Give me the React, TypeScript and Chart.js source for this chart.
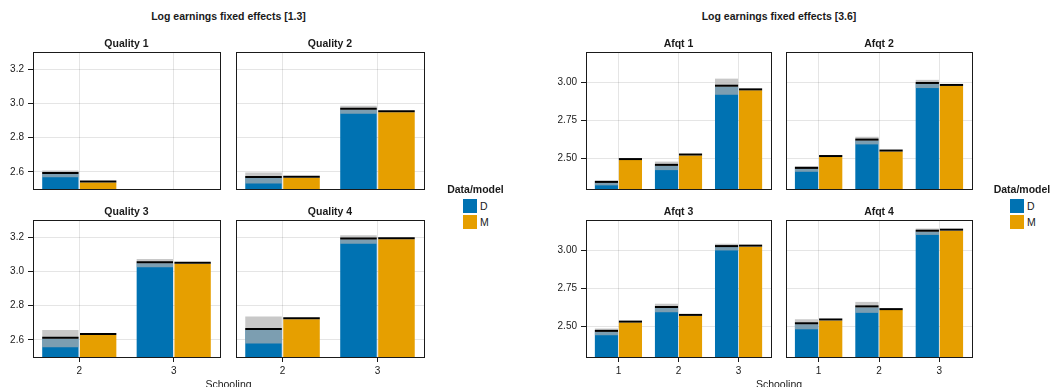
import React, { useEffect, useRef } from "react";
import { Chart, registerables } from "chart.js";

Chart.register(...registerables);

// ---------- style ----------
const FONT = "'Liberation Sans', Arial, Helvetica, sans-serif";
const TEXT = "#1a1a1a";
const BLUE = "#0072B2";
const ORANGE = "#E69F00";
const BAND = "rgba(176,176,176,0.7)";
const GRID = "rgba(0,0,0,0.1)";

// ---------- data: left figure (Quality) ----------
const QUALITY_SCHOOLING = [2, 3];
const QUALITY_Y_TICKS = [2.6, 2.8, 3.0, 3.2];
const QUALITY_X_RANGE = [1.51, 3.49];
const QUALITY_Y_RANGE = [2.5, 3.3];

const Q1_DATA = [2.588, null];
const Q1_DATA_SE = [0.02, null];
const Q1_MODEL = [2.538, null];

const Q2_DATA = [2.564, 2.963];
const Q2_DATA_SE = [0.032, 0.023];
const Q2_MODEL = [2.566, 2.948];

const Q3_DATA = [2.607, 3.048];
const Q3_DATA_SE = [0.05, 0.024];
const Q3_MODEL = [2.628, 3.045];

const Q4_DATA = [2.658, 3.186];
const Q4_DATA_SE = [0.079, 0.025];
const Q4_MODEL = [2.721, 3.188];

// ---------- data: right figure (Afqt) ----------
const AFQT_SCHOOLING = [1, 2, 3];
const AFQT_Y_TICKS = [2.5, 2.75, 3.0];
const AFQT_X_RANGE = [0.46, 3.54];
const AFQT_Y_RANGE = [2.3, 3.2];

const A1_DATA = [2.34, 2.452, 2.972];
const A1_DATA_SE = [0.016, 0.028, 0.053];
const A1_MODEL = [2.49, 2.52, 2.948];

const A2_DATA = [2.432, 2.618, 2.99];
const A2_DATA_SE = [0.019, 0.025, 0.027];
const A2_MODEL = [2.51, 2.546, 2.977];

const A3_DATA = [2.465, 2.622, 3.022];
const A3_DATA_SE = [0.022, 0.028, 0.022];
const A3_MODEL = [2.526, 2.57, 3.025];

const A4_DATA = [2.515, 2.626, 3.123];
const A4_DATA_SE = [0.033, 0.036, 0.021];
const A4_MODEL = [2.54, 2.608, 3.13];

const LEGEND_TITLE = "Data/model";
const LEGEND_LABELS = ["D", "M"];

// ---------- layout ----------
const YW = 32; // y-axis box width
const TH = 20; // title box height
const XH = 24; // x-axis box height
const RP = 4; // right padding

type Vals = (number | null)[];
interface PanelSpec {
  title: string;
  cats: number[];
  data: Vals;
  dataSe: Vals;
  model: Vals;
  xRange: number[];
  yRange: number[];
  yTicks: number[];
  yDecimals: number;
  rect: number[]; // plot area: left, top, width, height
  showX: boolean;
  showY: boolean;
}

const quality = (title, data, dataSe, model, rect, showX, showY): PanelSpec => ({
  title, cats: QUALITY_SCHOOLING, data, dataSe, model,
  xRange: QUALITY_X_RANGE, yRange: QUALITY_Y_RANGE, yTicks: QUALITY_Y_TICKS, yDecimals: 1,
  rect, showX, showY,
});
const afqt = (title, data, dataSe, model, rect, showX, showY): PanelSpec => ({
  title, cats: AFQT_SCHOOLING, data, dataSe, model,
  xRange: AFQT_X_RANGE, yRange: AFQT_Y_RANGE, yTicks: AFQT_Y_TICKS, yDecimals: 2,
  rect, showX, showY,
});

const PANELS: PanelSpec[] = [
  quality("Quality 1", Q1_DATA, Q1_DATA_SE, Q1_MODEL, [33, 52, 187, 137], false, true),
  quality("Quality 2", Q2_DATA, Q2_DATA_SE, Q2_MODEL, [236, 52, 188, 137], false, false),
  quality("Quality 3", Q3_DATA, Q3_DATA_SE, Q3_MODEL, [33, 220, 187, 137], true, true),
  quality("Quality 4", Q4_DATA, Q4_DATA_SE, Q4_MODEL, [236, 220, 188, 137], true, false),
  afqt("Afqt 1", A1_DATA, A1_DATA_SE, A1_MODEL, [586, 52, 185, 137], false, true),
  afqt("Afqt 2", A2_DATA, A2_DATA_SE, A2_MODEL, [786, 52, 186, 137], false, false),
  afqt("Afqt 3", A3_DATA, A3_DATA_SE, A3_MODEL, [586, 220, 185, 137], true, true),
  afqt("Afqt 4", A4_DATA, A4_DATA_SE, A4_MODEL, [786, 220, 186, 137], true, false),
];

const framePlugin = {
  id: "frame",
  afterDatasetsDraw(chart) {
    const { ctx, chartArea: a } = chart;
    const l = Math.round(a.left);
    const t = Math.round(a.top);
    const r = Math.round(a.right);
    const b = Math.round(a.bottom);
    ctx.save();
    ctx.strokeStyle = TEXT;
    ctx.lineWidth = 1;
    ctx.strokeRect(l + 0.5, t + 0.5, r - l, b - t);
    ctx.restore();
  },
};

function Panel({ spec }: { spec: PanelSpec }) {
  const ref = useRef<HTMLCanvasElement>(null);
  const [pl, pt, pw, ph] = spec.rect;
  const w = YW + pw + RP;
  const h = TH + ph + XH;

  useEffect(() => {
    const canvas = ref.current;
    if (!canvas) return;
    const pts = (vals: Vals, f: (i: number) => any) =>
      spec.cats.flatMap((c, i) => (vals[i] == null ? [] : [{ x: c, y: f(i) }]));
    const common = {
      categoryPercentage: 0.8,
      barPercentage: 0.9625,
      clip: 0,
      borderWidth: 0,
    };
    const tickFont = { family: FONT, size: 10 };
    const chart = new Chart(canvas, {
      type: "bar",
      data: {
        datasets: [
          { ...common, label: "D mean", stack: "D", order: 0, minBarLength: 2, backgroundColor: "#000",
            data: pts(spec.data, (i) => [spec.data[i], spec.data[i]]) },
          { ...common, label: "M mean", stack: "M", order: 0, minBarLength: 2, backgroundColor: "#000",
            data: pts(spec.model, (i) => [spec.model[i], spec.model[i]]) },
          { ...common, label: "D band", stack: "D", order: 1, backgroundColor: BAND,
            data: pts(spec.data, (i) => [spec.data[i]! - spec.dataSe[i]!, spec.data[i]! + spec.dataSe[i]!]) },
          { ...common, label: "D", stack: "D", order: 2, backgroundColor: BLUE,
            data: pts(spec.data, (i) => spec.data[i]) },
          { ...common, label: "M", stack: "M", order: 2, backgroundColor: ORANGE,
            data: pts(spec.model, (i) => spec.model[i]) },
        ],
      },
      options: {
        responsive: false,
        animation: false,
        events: [],
        layout: { padding: { left: 0, top: 0, right: RP, bottom: 0 } },
        plugins: {
          legend: { display: false },
          tooltip: { enabled: false },
          title: {
            display: true,
            text: spec.title,
            fullSize: false,
            color: TEXT,
            font: { family: FONT, size: 10.5, weight: "bold", lineHeight: 1 },
            padding: { top: 7, bottom: 2.5 },
          },
        },
        scales: {
          x: {
            type: "linear",
            min: spec.xRange[0],
            max: spec.xRange[1],
            bounds: "data",
            offset: false,
            afterBuildTicks: (s) => {
              s.ticks = spec.cats.map((v) => ({ value: v }));
            },
            afterFit: (s) => {
              s.height = XH;
            },
            grid: {
              color: GRID,
              lineWidth: 1,
              offset: false,
              drawTicks: spec.showX,
              tickLength: 5,
              tickColor: TEXT,
              tickWidth: 1,
            },
            border: { display: false },
            ticks: {
              display: spec.showX,
              padding: 3,
              color: TEXT,
              font: tickFont,
              maxRotation: 0,
              autoSkip: false,
              callback: (v) => String(v),
            },
          },
          y: {
            type: "linear",
            min: spec.yRange[0],
            max: spec.yRange[1],
            bounds: "data",
            stacked: false,
            beginAtZero: false,
            afterBuildTicks: (s) => {
              s.ticks = spec.yTicks.map((v) => ({ value: v }));
            },
            afterFit: (s) => {
              s.width = YW;
            },
            grid: {
              color: GRID,
              lineWidth: 1,
              drawTicks: spec.showY,
              tickLength: 5,
              tickColor: TEXT,
              tickWidth: 1,
            },
            border: { display: false },
            ticks: {
              display: spec.showY,
              padding: 4,
              color: TEXT,
              font: tickFont,
              autoSkip: false,
              callback: (v) => Number(v).toFixed(spec.yDecimals),
            },
          },
        },
      },
      plugins: [framePlugin],
    } as any);
    return () => chart.destroy();
  }, []);

  return (
    <canvas
      ref={ref}
      width={w}
      height={h}
      style={{ position: "absolute", left: pl - YW, top: pt - TH, width: w, height: h }}
    />
  );
}

function Text({ text, cx, top, bold = false, size = 10.5 }) {
  return (
    <div
      style={{
        position: "absolute",
        left: cx - 200,
        top,
        width: 400,
        textAlign: "center",
        fontFamily: FONT,
        fontSize: size,
        fontWeight: bold ? "bold" : "normal",
        lineHeight: "12px",
        color: TEXT,
        whiteSpace: "nowrap",
      }}
    >
      {text}
    </div>
  );
}

function Legend({ cx, boxLeft }) {
  const colors = [BLUE, ORANGE];
  return (
    <>
      <Text text={LEGEND_TITLE} cx={cx} top={182.5} bold />
      {LEGEND_LABELS.map((lab, i) => (
        <React.Fragment key={lab}>
          <div
            style={{
              position: "absolute",
              left: boxLeft,
              top: 199 + i * 16,
              width: 14,
              height: 14,
              background: colors[i],
            }}
          />
          <div
            style={{
              position: "absolute",
              left: boxLeft + 17,
              top: 200 + i * 16,
              fontFamily: FONT,
              fontSize: 10.5,
              lineHeight: "12px",
              color: TEXT,
            }}
          >
            {lab}
          </div>
        </React.Fragment>
      ))}
    </>
  );
}

export default function App() {
  return (
    <div
      style={{
        position: "absolute",
        left: 0,
        top: 0,
        width: 1051,
        height: 387,
        overflow: "hidden",
        background: "#fff",
      }}
    >
      <Text text="Log earnings fixed effects [1.3]" cx={228.5} top={9.5} bold />
      <Text text="Log earnings fixed effects [3.6]" cx={779} top={9.5} bold />
      {PANELS.map((p) => (
        <Panel key={p.title} spec={p} />
      ))}
      <Text text="Schooling" cx={228.5} top={378} />
      <Text text="Schooling" cx={779} top={378} />
      <Legend cx={475.5} boxLeft={463} />
      <Legend cx={1022} boxLeft={1010} />
    </div>
  );
}
